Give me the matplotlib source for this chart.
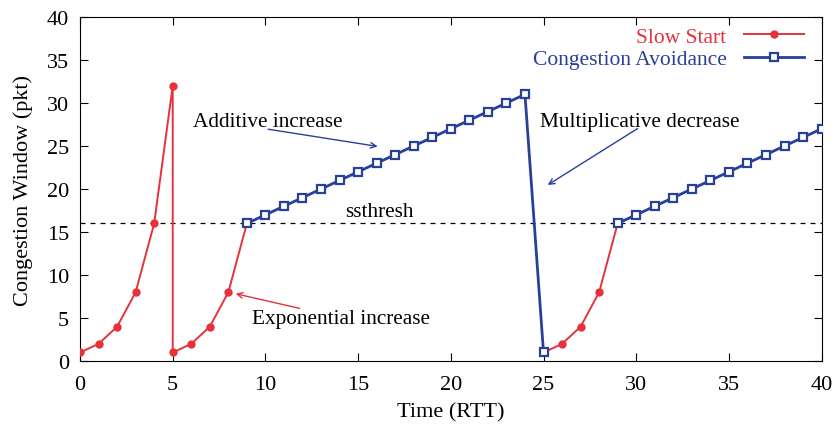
import matplotlib
matplotlib.use('Agg')
import matplotlib.pyplot as plt
import numpy as np

# slow start phases (NaN splits the pieces)
ss_x = [0, 1, 2, 3, 4, 5, 5, 6, 7, 8, 9, np.nan, 25, 26, 27, 28, 29]
ss_y = [1, 2, 4, 8, 16, 32, 1, 2, 4, 8, 16, np.nan, 1, 2, 4, 8, 16]

# congestion avoidance phases
ca_x = list(range(9, 26)) + [np.nan] + list(range(29, 41))
ca_y = [16, 17, 18, 19, 20, 21, 22, 23, 24, 25, 26, 27, 28, 29, 30, 31, 1] + [np.nan] + \
       [16, 17, 18, 19, 20, 21, 22, 23, 24, 25, 26, 27]

ssthresh = 16

RED = '#e5323c'
BLUE = '#28409a'

plt.rcParams['font.family'] = 'Liberation Serif'

fig = plt.figure(figsize=(8.37, 4.27), dpi=100)
ax = fig.add_axes([0.0956, 0.152, 0.886, 0.806])

ax.axhline(ssthresh, color='black', ls=(0, (4, 4)), lw=0.9)

ax.plot(ss_x, ss_y, color=RED, lw=1.4, marker='o', ms=5, label='Slow Start', zorder=3)
ax.plot(ca_x, ca_y, color=BLUE, lw=2.0, marker='s', ms=5.5, mfc='white', mew=1.6,
        label='Congestion Avoidance', zorder=4)

ax.set_xlim(0, 40)
ax.set_ylim(0, 40)
ax.set_xticks(np.arange(0, 41, 5))
ax.set_yticks(np.arange(0, 41, 5))
ax.tick_params(direction='in', top=True, right=True, length=6, labelsize=16)
ax.tick_params(axis='x', pad=10)
ax.tick_params(axis='y', pad=8)
ax.set_xlabel('Time (RTT)', fontsize=16, labelpad=6)
ax.set_ylabel('Congestion Window (pkt)', fontsize=16, labelpad=10)

ax.annotate('', xy=(16.2, 24.9), xytext=(10.0, 27.0),
            arrowprops=dict(arrowstyle='->', color=BLUE, lw=1.0))
ax.text(6.1, 27.8, 'Additive increase', va='center', fontsize=15.3)

ax.annotate('', xy=(25.1, 20.3), xytext=(30.2, 27.2),
            arrowprops=dict(arrowstyle='->', color=BLUE, lw=1.0))
ax.text(24.8, 27.9, 'Multiplicative decrease', va='center', fontsize=15.3)

ax.annotate('', xy=(8.25, 7.9), xytext=(12.0, 6.05),
            arrowprops=dict(arrowstyle='->', color=RED, lw=1.0))
ax.text(9.3, 4.9, 'Exponential increase', va='center', fontsize=15.3)

ax.text(14.3, 17.4, 'ssthresh', va='center', fontsize=15.3)

ax.legend(loc='upper right', bbox_to_anchor=(0.985, 0.99), frameon=False,
          markerfirst=False, labelcolor='linecolor', fontsize=15.5, handlelength=2.8,
          borderaxespad=0.0, labelspacing=0.1, handletextpad=0.8, borderpad=0.3)

fig.savefig('out.png', dpi=100)
